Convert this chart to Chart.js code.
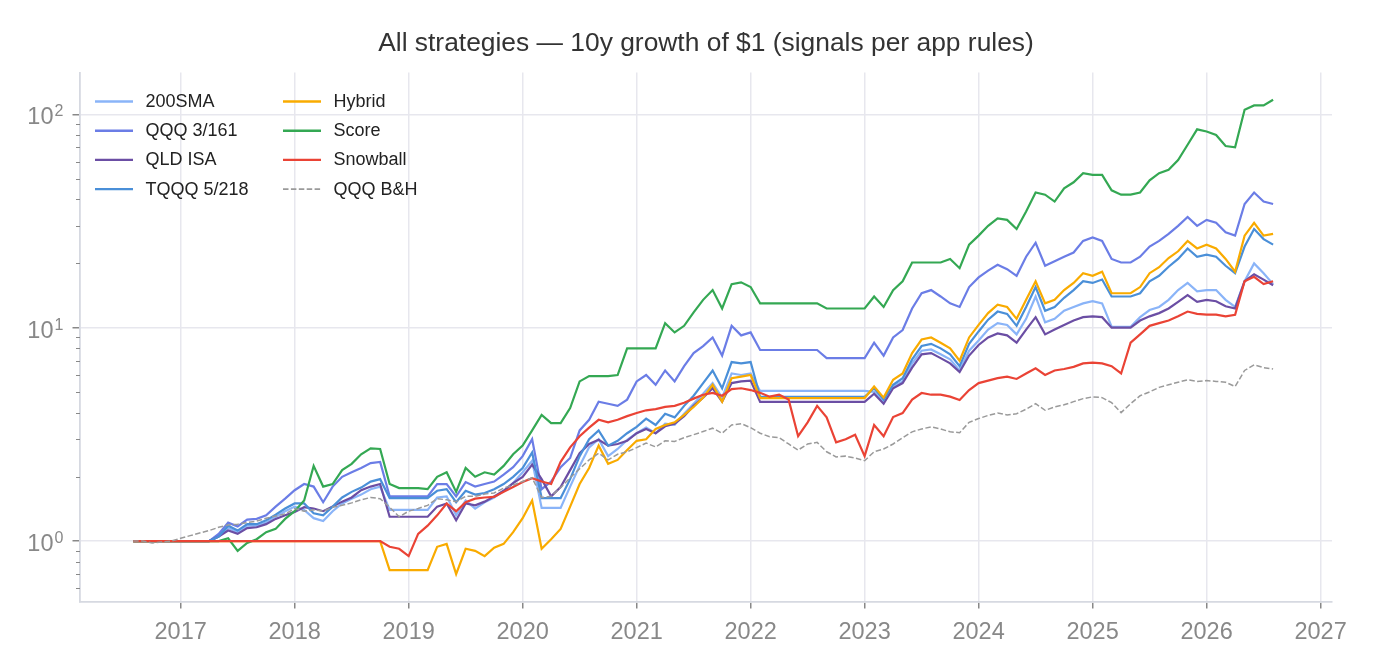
<!DOCTYPE html>
<html>
<head>
<meta charset="utf-8">
<title>All strategies - 10y growth of $1</title>
<script src="https://cdn.jsdelivr.net/npm/chart.js@4.4.1/dist/chart.umd.min.js"></script>
<style>
  html, body { margin: 0; padding: 0; background: #fff; }
  #wrap { width: 1376px; height: 672px; }
</style>
</head>
<body>
<div id="wrap"><canvas id="growth-chart" width="1376" height="672"></canvas></div>
<script>
// monthly samples, Aug 2016 .. Aug 2026 (121 months)
var START_YEAR = 2016, START_MONTH = 8, N_MONTHS = 121;

// x axis year ticks
var yearTicks = [2017, 2018, 2019, 2020, 2021, 2022, 2023, 2024, 2025, 2026, 2027];
// y axis (log) ticks, labels only on the powers of ten
var yTicks = [0.6, 0.7, 0.8, 0.9, 1, 2, 3, 4, 5, 6, 7, 8, 9, 10, 20, 30, 40, 50, 60, 70, 80, 90, 100];
var yMajor = [1, 10, 100];

var seriesNames = ["200SMA", "QQQ 3/161", "QLD ISA", "TQQQ 5/218", "Hybrid", "Score", "Snowball", "QQQ B&H"];

// growth of $1, one value per month
var sma200 = [
  1, 1, 1, 1, 1,
  1, 1, 1, 1, 1.05, 1.15, 1.10, 1.18, 1.18, 1.22, 1.30, 1.38,
  1.45, 1.40, 1.28, 1.24, 1.38, 1.50, 1.58, 1.65, 1.75, 1.80, 1.40, 1.40,
  1.40, 1.40, 1.40, 1.60, 1.62, 1.32, 1.55, 1.42, 1.52, 1.60, 1.72, 1.87,
  2.10, 2.38, 1.43, 1.43, 1.43, 1.80, 2.25, 2.75, 3.00, 2.50, 2.70, 2.98,
  3.20, 3.40, 3.20, 3.55, 3.50, 3.95, 4.40, 4.90, 5.50, 4.70, 6.10, 6.00,
  6.10, 5.05, 5.05, 5.05, 5.05, 5.05, 5.05, 5.05, 5.05, 5.05, 5.05, 5.05,
  5.05, 5.00, 4.45, 5.30, 5.60, 6.80, 7.80, 7.90, 7.50, 7.10, 6.30, 7.80,
  8.70, 9.80, 10.5, 10.3, 9.30, 11.0, 14.0, 10.6, 11.0, 12.0, 12.5, 13.0,
  13.3, 13.0, 10.1, 10.1, 10.1, 11.2, 12.1, 12.5, 13.5, 15.0, 16.2, 14.8,
  15.0, 15.0, 13.5, 12.5, 16.5, 20.0, 18.0, 16.0
];
var qqq3 = [
  1, 1, 1, 1, 1,
  1, 1, 1, 1, 1.08, 1.22, 1.17, 1.26, 1.27, 1.32, 1.45, 1.58,
  1.73, 1.85, 1.80, 1.52, 1.80, 2.00, 2.10, 2.20, 2.32, 2.35, 1.62, 1.62,
  1.62, 1.62, 1.62, 1.85, 1.85, 1.62, 1.89, 1.80, 1.85, 1.90, 2.05, 2.22,
  2.50, 3.00, 1.75, 1.90, 2.22, 2.45, 3.30, 3.70, 4.50, 4.40, 4.30, 4.60,
  5.60, 6.00, 5.40, 6.30, 5.60, 6.60, 7.60, 8.20, 9.00, 7.40, 10.2, 9.20,
  9.50, 7.86, 7.86, 7.86, 7.86, 7.86, 7.86, 7.86, 7.20, 7.20, 7.20, 7.20,
  7.20, 8.50, 7.40, 9.00, 9.75, 12.3, 14.5, 15.0, 14.0, 13.0, 12.5, 15.5,
  17.2, 18.5, 19.7, 18.8, 17.5, 21.5, 25.0, 19.5, 20.5, 21.5, 22.5, 25.5,
  26.5, 25.5, 21.0, 20.2, 20.2, 21.5, 24.0, 25.5, 27.5, 30.0, 33.0, 30.0,
  32.0, 31.0, 28.0, 27.0, 38.0, 43.0, 39.0, 38.0
];
var qldIsa = [
  1, 1, 1, 1, 1,
  1, 1, 1, 1, 1.05, 1.12, 1.08, 1.15, 1.16, 1.20, 1.27, 1.32,
  1.37, 1.44, 1.42, 1.38, 1.45, 1.53, 1.60, 1.73, 1.80, 1.85, 1.30, 1.30,
  1.30, 1.30, 1.30, 1.45, 1.50, 1.25, 1.50, 1.47, 1.53, 1.62, 1.72, 1.87,
  2.00, 2.28, 1.95, 1.62, 1.79, 2.15, 2.58, 2.85, 2.98, 2.80, 2.85, 2.95,
  3.20, 3.35, 3.20, 3.45, 3.55, 3.85, 4.30, 4.70, 5.20, 4.50, 5.50, 5.60,
  5.65, 4.49, 4.49, 4.49, 4.49, 4.49, 4.49, 4.49, 4.49, 4.49, 4.49, 4.49,
  4.49, 4.90, 4.40, 5.20, 5.50, 6.50, 7.50, 7.60, 7.20, 6.80, 6.20, 7.40,
  8.30, 9.00, 9.40, 9.20, 8.50, 9.80, 11.2, 9.30, 9.80, 10.3, 10.8, 11.2,
  11.3, 11.2, 10.0, 10.0, 10.0, 10.8, 11.3, 11.7, 12.3, 13.2, 14.2, 13.2,
  13.5, 13.3, 12.6, 12.3, 16.5, 17.8, 16.8, 15.8
];
var tqqq5 = [
  1, 1, 1, 1, 1,
  1, 1, 1, 1, 1.05, 1.18, 1.12, 1.20, 1.20, 1.25, 1.33, 1.42,
  1.50, 1.50, 1.35, 1.32, 1.45, 1.60, 1.70, 1.78, 1.90, 1.95, 1.59, 1.59,
  1.59, 1.59, 1.59, 1.72, 1.75, 1.52, 1.72, 1.65, 1.68, 1.75, 1.85, 2.00,
  2.20, 2.60, 1.59, 1.59, 1.59, 1.95, 2.50, 3.00, 3.30, 2.80, 2.95, 3.20,
  3.43, 3.75, 3.50, 3.95, 3.80, 4.30, 4.80, 5.50, 6.30, 5.20, 6.90, 6.80,
  6.90, 4.74, 4.74, 4.74, 4.74, 4.74, 4.74, 4.74, 4.74, 4.74, 4.74, 4.74,
  4.74, 5.20, 4.60, 5.40, 5.80, 7.10, 8.20, 8.40, 8.00, 7.50, 6.60, 8.40,
  9.60, 10.9, 11.9, 11.6, 10.2, 12.5, 15.5, 12.0, 12.5, 13.8, 15.0, 16.5,
  16.2, 16.8, 14.0, 14.0, 14.0, 14.5, 16.5, 17.5, 19.3, 21.0, 23.5, 21.5,
  22.0, 21.5, 19.5, 18.0, 24.0, 29.0, 26.0, 24.5
];
var hybrid = [
  1, 1, 1, 1, 1,
  1, 1, 1, 1, 1, 1, 1, 1, 1, 1, 1, 1,
  1, 1, 1, 1, 1, 1, 1, 1, 1, 1, 0.73, 0.73,
  0.73, 0.73, 0.73, 0.94, 0.97, 0.70, 0.92, 0.90, 0.85, 0.93, 0.97, 1.10,
  1.28, 1.55, 0.92, 1.02, 1.14, 1.45, 1.85, 2.20, 2.80, 2.30, 2.40, 2.67,
  2.95, 3.00, 3.35, 3.50, 3.60, 3.90, 4.25, 4.70, 5.40, 4.50, 5.80, 5.90,
  6.00, 4.68, 4.68, 4.68, 4.68, 4.68, 4.68, 4.68, 4.68, 4.68, 4.68, 4.68,
  4.68, 5.30, 4.70, 5.70, 6.10, 7.60, 8.80, 9.00, 8.50, 8.00, 7.00, 9.00,
  10.3, 11.7, 12.8, 12.5, 11.0, 13.5, 16.5, 13.0, 13.5, 15.0, 16.2, 18.0,
  17.5, 18.3, 14.5, 14.5, 14.5, 15.5, 18.0, 19.2, 21.2, 22.8, 25.5, 23.5,
  24.5, 23.5, 21.0, 18.3, 27.0, 31.0, 27.0, 27.5
];
var score = [
  1, 1, 1, 1, 1,
  1, 1, 1, 1, 1, 1.03, 0.90, 0.98, 1.02, 1.10, 1.14, 1.27,
  1.38, 1.55, 2.25, 1.80, 1.85, 2.15, 2.30, 2.55, 2.72, 2.70, 1.85, 1.77,
  1.77, 1.77, 1.75, 2.00, 2.10, 1.70, 2.20, 2.00, 2.10, 2.05, 2.25, 2.55,
  2.80, 3.30, 3.90, 3.57, 3.57, 4.20, 5.60, 5.93, 5.93, 5.93, 6.00, 8.00,
  8.00, 8.00, 8.00, 10.5, 9.50, 10.2, 11.8, 13.5, 15.0, 12.3, 16.0, 16.3,
  15.5, 13.0, 13.0, 13.0, 13.0, 13.0, 13.0, 13.0, 12.3, 12.3, 12.3, 12.3,
  12.3, 14.0, 12.5, 15.0, 16.5, 20.2, 20.2, 20.2, 20.2, 21.0, 19.0, 24.5,
  27.0, 30.0, 32.5, 32.0, 29.0, 35.0, 43.0, 42.0, 39.0, 45.0, 48.0, 53.0,
  52.0, 52.0, 44.0, 42.0, 42.0, 43.0, 49.0, 53.0, 55.0, 61.0, 72.0, 85.0,
  83.0, 80.0, 71.0, 70.0, 105, 110, 110, 117
];
var snowball = [
  1, 1, 1, 1, 1,
  1, 1, 1, 1, 1, 1, 1, 1, 1, 1, 1, 1,
  1, 1, 1, 1, 1, 1, 1, 1, 1, 1, 0.94, 0.92,
  0.85, 1.08, 1.18, 1.32, 1.50, 1.38, 1.52, 1.58, 1.60, 1.61, 1.70, 1.79,
  1.89, 1.97, 1.90, 1.85, 2.35, 2.75, 3.10, 3.40, 3.70, 3.60, 3.70, 3.85,
  3.98, 4.10, 4.15, 4.25, 4.30, 4.45, 4.65, 4.85, 4.95, 4.80, 5.15, 5.20,
  5.10, 4.95, 4.75, 4.85, 4.60, 3.10, 3.60, 4.30, 3.80, 2.90, 3.00, 3.15,
  2.50, 3.50, 3.10, 3.81, 3.98, 4.60, 4.94, 4.85, 4.85, 4.75, 4.58, 5.10,
  5.50, 5.65, 5.80, 5.90, 5.75, 6.10, 6.45, 6.00, 6.30, 6.40, 6.55, 6.80,
  6.85, 6.80, 6.60, 6.10, 8.50, 9.30, 10.2, 10.5, 10.8, 11.3, 11.9, 11.6,
  11.5, 11.5, 11.3, 11.5, 16.5, 17.3, 16.0, 16.5
];
var qqqBuyHold = [
  1.00, 1.00, 0.98, 0.99, 1.00,
  1.03, 1.06, 1.09, 1.12, 1.16, 1.19, 1.20, 1.22, 1.24, 1.28, 1.31, 1.34,
  1.42, 1.38, 1.40, 1.38, 1.44, 1.47, 1.51, 1.56, 1.60, 1.58, 1.44, 1.30,
  1.38, 1.42, 1.47, 1.58, 1.56, 1.53, 1.62, 1.62, 1.66, 1.68, 1.77, 1.83,
  1.90, 1.98, 1.60, 1.62, 1.78, 1.98, 2.18, 2.40, 2.58, 2.40, 2.55, 2.62,
  2.74, 2.88, 2.76, 2.95, 2.93, 3.05, 3.15, 3.26, 3.38, 3.20, 3.50, 3.55,
  3.40, 3.20, 3.08, 3.05, 2.85, 2.67, 2.85, 2.90, 2.62, 2.48, 2.50, 2.45,
  2.38, 2.62, 2.70, 2.85, 3.05, 3.25, 3.35, 3.43, 3.35, 3.25, 3.22, 3.60,
  3.75, 3.88, 3.98, 3.90, 3.95, 4.15, 4.40, 4.10, 4.25, 4.35, 4.50, 4.65,
  4.74, 4.70, 4.45, 4.00, 4.40, 4.80, 5.00, 5.25, 5.40, 5.55, 5.70, 5.60,
  5.65, 5.60, 5.55, 5.30, 6.30, 6.70, 6.50, 6.40
];

var seriesValues = [sma200, qqq3, qldIsa, tqqq5, hybrid, score, snowball, qqqBuyHold];
var seriesColors = ["#8ab4f8", "#6b7de6", "#6b4ea4", "#4a8fd8", "#f9ab00", "#34a853", "#ea4335", "#9a9a9a"];

// decimal year for every month
var monthX = [];
for (var m = 0; m < N_MONTHS; m++) {
  var mm = START_MONTH - 1 + m;
  monthX.push(START_YEAR + Math.floor(mm / 12) + (mm % 12) / 12);
}

var FONT = '"Liberation Sans", Arial, Helvetica, sans-serif';
Chart.defaults.font.family = FONT;

var datasets = seriesNames.map(function(name, i) {
  var isBH = (name === "QQQ B&H");
  return {
    label: name,
    data: seriesValues[i].map(function(v, k) { return {x: monthX[k], y: v}; }),
    borderColor: seriesColors[i],
    backgroundColor: seriesColors[i],
    borderWidth: isBH ? 1.5 : 2.2,
    borderDash: isBH ? [5.5, 2.4] : [],
    fill: false,
    pointRadius: 0,
    tension: 0,
    // matplotlib style stacking: later series on top
    order: seriesNames.length - 1 - i
  };
});

function isMajor(v) { return yMajor.indexOf(v) !== -1; }

// legend in two columns at the top left of the plot
var cornerLegend = {
  id: "cornerLegend",
  afterDatasetsDraw: function(chart) {
    var ctx = chart.ctx;
    ctx.save();
    chart.data.datasets.forEach(function(ds, i) {
      var col = Math.floor(i / 4), row = i % 4;
      var x0 = 95 + col * 188, y = 101.5 + row * 29.2;
      ctx.beginPath();
      ctx.strokeStyle = ds.borderColor;
      ctx.lineWidth = ds.borderDash.length ? 1.6 : 2.4;
      ctx.setLineDash(ds.borderDash);
      ctx.moveTo(x0, y);
      ctx.lineTo(x0 + 38, y);
      ctx.stroke();
      ctx.setLineDash([]);
      ctx.fillStyle = "#222";
      ctx.font = "18px " + FONT;
      ctx.textAlign = "left";
      ctx.textBaseline = "middle";
      ctx.fillText(ds.label, x0 + 50.5, y + 0.5);
    });
    ctx.restore();
  }
};

// 10^n labels and minor tick marks for the log axis
var logAxisLabels = {
  id: "logAxisLabels",
  afterDraw: function(chart) {
    var s = chart.scales.y, ctx = chart.ctx, left = chart.chartArea.left;
    ctx.save();
    ctx.strokeStyle = "#888";
    ctx.lineWidth = 1;
    yTicks.forEach(function(v) {
      if (isMajor(v)) return;
      var y = Math.round(s.getPixelForValue(v)) + 0.5;
      ctx.beginPath();
      ctx.moveTo(left - 4, y);
      ctx.lineTo(left, y);
      ctx.stroke();
    });
    ctx.fillStyle = "#888";
    ctx.textBaseline = "alphabetic";
    yMajor.forEach(function(v) {
      var y = s.getPixelForValue(v);
      ctx.font = "23.5px " + FONT;
      ctx.textAlign = "right";
      ctx.fillText("10", 53.5, y + 10);
      ctx.font = "16px " + FONT;
      ctx.textAlign = "left";
      ctx.fillText(String(Math.round(Math.log10(v))), 54.5, y + 2);
    });
    ctx.restore();
  }
};

var chart = new Chart(document.getElementById("growth-chart"), {
  type: "line",
  data: { datasets: datasets },
  options: {
    responsive: false,
    animation: false,
    parsing: false,
    layout: { padding: { left: 0, right: 44, top: 0, bottom: 0 } },
    plugins: {
      legend: { display: false },
      tooltip: { enabled: false },
      title: {
        display: true,
        fullSize: false,
        text: "All strategies \u2014 10y growth of $1 (signals per app rules)",
        color: "#333",
        font: { size: 26.4, weight: "normal" },
        padding: { top: 27.5, bottom: 13.3 }
      }
    },
    scales: {
      x: {
        type: "linear",
        min: 2016.117,
        max: 2027.1,
        afterBuildTicks: function(s) {
          s.ticks = yearTicks.map(function(v) { return {value: v}; });
        },
        afterFit: function(s) { s.height = 70; },
        grid: {
          color: "#e7e7ee",
          lineWidth: 1.5,
          tickLength: 6.5,
          tickColor: "#888",
          tickWidth: 1.5
        },
        border: { color: "#d6d9e1", width: 1.8 },
        ticks: {
          color: "#888",
          font: { size: 23.5 },
          padding: 10,
          maxRotation: 0,
          autoSkip: false,
          callback: function(v) { return String(v); }
        }
      },
      y: {
        type: "logarithmic",
        min: 0.518,
        max: 157,
        afterBuildTicks: function(s) {
          s.ticks = yTicks.map(function(v) { return {value: v, major: isMajor(v)}; });
        },
        afterFit: function(s) { s.width = 80; },
        grid: {
          color: function(c) { return c.tick && isMajor(c.tick.value) ? "#e7e7ee" : "rgba(0,0,0,0)"; },
          lineWidth: 1.5,
          tickLength: 7.5,
          tickColor: function(c) { return c.tick && isMajor(c.tick.value) ? "#888" : "rgba(0,0,0,0)"; },
          tickWidth: 1.5
        },
        border: { color: "#d6d9e1", width: 1.8 },
        ticks: {
          autoSkip: false,
          callback: function() { return ""; }
        }
      }
    }
  },
  plugins: [cornerLegend, logAxisLabels]
});
</script>
</body>
</html>
